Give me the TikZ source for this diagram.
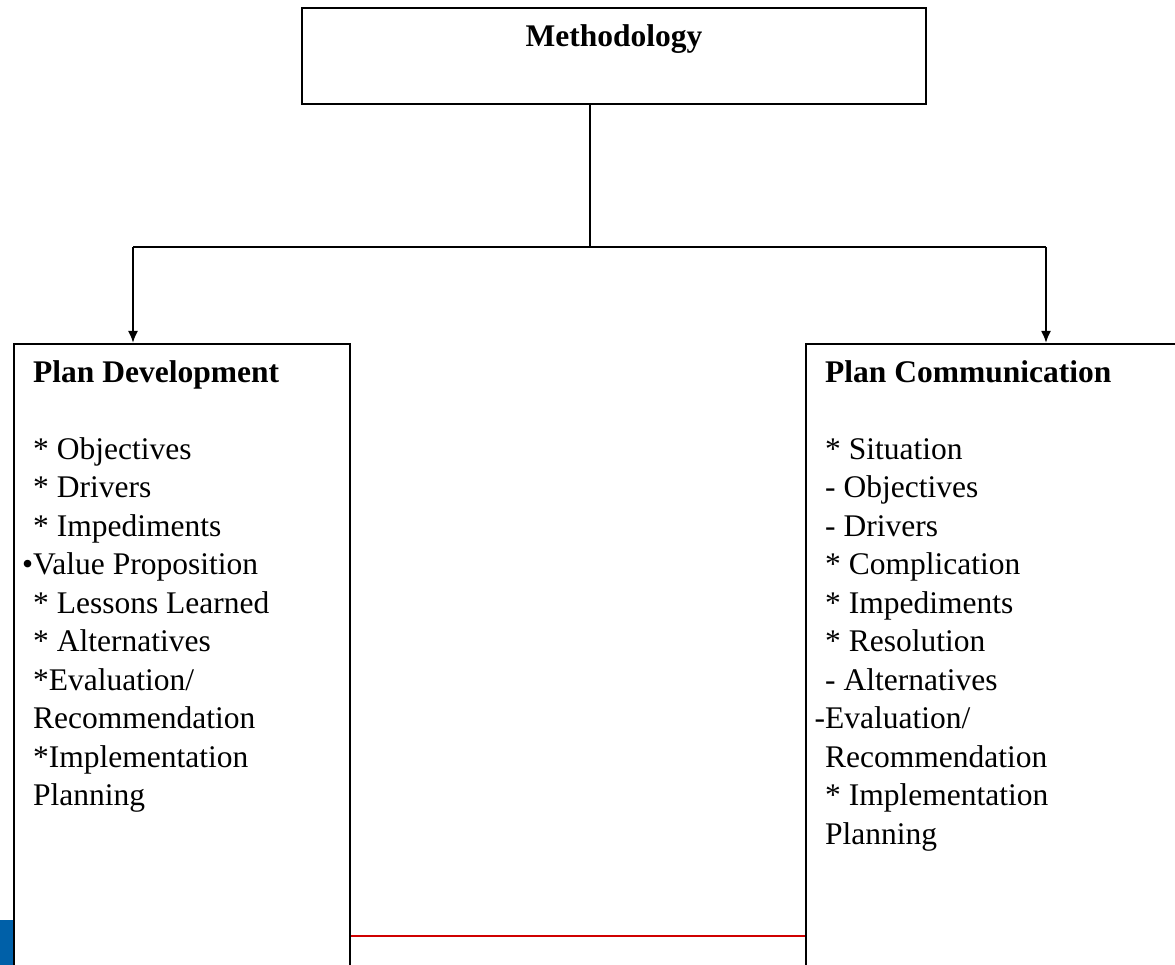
\documentclass[tikz,border=0pt]{standalone}
\usepackage{fontspec}
\setmainfont{Liberation Serif}
\usetikzlibrary{arrows.meta}
\definecolor{linkred}{HTML}{D00000}
\definecolor{sideblue}{HTML}{0060A8}
\tikzset{
  boxnode/.style={draw=black, line width=2pt, rectangle, inner sep=0pt, fill=white},
  txt/.style={anchor=base west, inner sep=0pt, font=\fontsize{31.5}{38.5}\selectfont},
  ttl/.style={anchor=base west, inner sep=0pt, font=\fontsize{31.5}{38.5}\selectfont\bfseries},
  conn/.style={draw=black, line width=2pt},
  arr/.style={conn, -{Latex[length=12pt,width=10pt]}},
}
\begin{document}
\begin{tikzpicture}[x=1pt,y=-1pt]
\useasboundingbox (0,0) rectangle (1175,965);
\clip (0,0) rectangle (1175,965);
\fill[sideblue] (0,920) rectangle (14,965);
% boxes
\node[boxnode, minimum width=624pt, minimum height=96pt] (meth) at (614,56) {};
\node[ttl, anchor=base] (methtxt) at (614,47) {Methodology};
\node[boxnode, minimum width=336pt, minimum height=700pt] (pd) at (182,694) {};
\node[boxnode, minimum width=444pt, minimum height=700pt] (pc) at (1028,694) {};
% connectors
\coordinate (j) at (590,247);
\coordinate (jl) at (133,247);
\coordinate (jr) at (1046,247);
\draw[conn] (meth.south -| j) -- (j);
\draw[conn] (jl) -- (jr);
\draw[arr] (jl) -- (jl |- pd.north);
\draw[arr] (jr) -- (jr |- pc.north);
\coordinate (redy) at (0,936);
\draw[draw=linkred, line width=2pt] (pd.east |- redy) -- (pc.west |- redy);
% left text
\node[ttl] (pdtitle) at (33,383) {Plan Development};
\foreach \t [count=\i from 0] in {{* Objectives},{* Drivers},{* Impediments},{\llap{•}Value Proposition},{* Lessons Learned},{* Alternatives},{*Evaluation/},{Recommendation},{*Implementation},{Planning}}{
  \node[txt] (pdl\i) at (33,459+\i*38.5) {\t};
}
% right text
\node[ttl] (pctitle) at (825,383) {Plan Communication};
\foreach \t [count=\i from 0] in {{* Situation},{- Objectives},{- Drivers},{* Complication},{* Impediments},{* Resolution},{- Alternatives},{\llap{-}Evaluation/},{Recommendation},{* Implementation},{Planning}}{
  \node[txt] (pcl\i) at (825,459+\i*38.5) {\t};
}
\end{tikzpicture}
\end{document}
